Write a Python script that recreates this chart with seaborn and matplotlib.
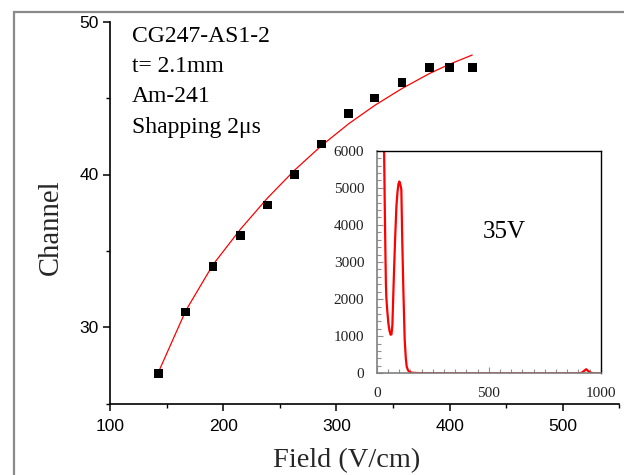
import matplotlib
matplotlib.use('Agg')
import matplotlib.pyplot as plt
import seaborn as sns
import numpy as np
import pandas as pd
from matplotlib.patches import Rectangle
from matplotlib.ticker import MultipleLocator

# ---- data ----
field = [143, 167, 191, 215, 239, 263, 287, 311, 334, 358, 382, 400, 420]
channel = [27, 31, 34, 36, 38, 40, 42, 44, 45, 46, 47, 47, 47]

fit_field = [143, 167, 191, 215, 239, 263, 287, 311, 334, 358, 382, 400, 420]
fit_channel = [27.1, 31.1, 34.1, 36.4, 38.45, 40.28, 41.9, 43.33, 44.53, 45.63, 46.6, 47.22, 47.82]

spec_ch = [30, 33, 36, 39, 41, 43, 47, 52, 57, 62, 66, 70, 76, 82, 88, 93, 97, 101, 104, 107,
           110, 114, 119, 125, 130, 134, 140, 148, 160, 180, 220, 300, 400, 500, 600, 700, 800,
           900, 915, 925, 935, 945, 955, 970, 1000]
spec_cnt = [7500, 6000, 4500, 3200, 2430, 2050, 1700, 1350, 1150, 1040, 1050, 1300, 2500, 3590,
            4500, 4900, 5100, 5170, 5120, 5050, 4950, 3600, 2250, 900, 400, 180, 80, 30, 15, 8,
            4, 2, 0, 0, 0, 0, 0, 0, 15, 60, 110, 60, 15, 0, 0]

info_lines = ["CG247-AS1-2", "t= 2.1mm", "Am-241", "Shapping 2\u03bcs"]
inset_label = "35V"

sns.set_style("ticks")
plt.rcParams['font.family'] = ['Liberation Serif', 'DejaVu Serif']

W, H = 624, 475
fig = plt.figure(figsize=(W / 100, H / 100), dpi=100)

# gray frame
fig.add_artist(Rectangle((14 / W, -0.2), 1.5, (H - 12) / H + 0.2, transform=fig.transFigure,
                         fill=False, edgecolor='#8a8a8a', lw=1.6, clip_on=False))

ax = fig.add_axes([110 / W, (H - 403.7) / H, 509.4 / W, 382 / H])
main_df = pd.DataFrame({'field': field, 'channel': channel})
fit_df = pd.DataFrame({'field': fit_field, 'channel': fit_channel})

sns.lineplot(data=fit_df, x='field', y='channel', ax=ax, color='#ff0000', lw=0.9,
             sort=False, estimator=None, zorder=2)
sns.scatterplot(data=main_df, x='field', y='channel', ax=ax, marker='s', s=40,
                color='black', edgecolor='none', zorder=3)

ax.set_xlim(100, 550)
ax.set_ylim(25, 50)
ax.xaxis.set_major_locator(MultipleLocator(100))
ax.xaxis.set_minor_locator(MultipleLocator(50))
ax.yaxis.set_major_locator(MultipleLocator(10))
ax.yaxis.set_minor_locator(MultipleLocator(5))
for s in ['top', 'right']:
    ax.spines[s].set_visible(False)
for s in ['left', 'bottom']:
    ax.spines[s].set_linewidth(1.2)
    ax.spines[s].set_color('black')
ax.tick_params(which='major', direction='out', length=5, width=1.1, labelsize=12.5,
               labelfontfamily='Liberation Sans', colors='black')
ax.tick_params(axis='x', which='major', pad=6)
ax.tick_params(axis='y', which='major', pad=3)
ax.tick_params(which='minor', direction='out', length=3, width=1.0, color='black')

ax.set_xlabel("Field (V/cm)", fontsize=20.4)
ax.set_ylabel("Channel", fontsize=20.6)
ax.xaxis.set_label_coords(0.464, -0.115)
ax.yaxis.set_label_coords(-0.091, 0.4626)

text_y = [48.65, 46.69, 44.76, 42.74]
for t, yv in zip(info_lines, text_y):
    ax.text(119.0, yv, t, fontsize=17, va='baseline', ha='left', color='black')

# inset
ins = fig.add_axes([376.7 / W, (H - 373.3) / H, 224 / W, 222.6 / H])
ins.set_facecolor('white')
spec_df = pd.DataFrame({'ch': spec_ch, 'cnt': spec_cnt})
sns.lineplot(data=spec_df, x='ch', y='cnt', ax=ins, color='#ff0000', lw=1.6,
             sort=False, estimator=None)
ins.set_xlim(0, 1000)
ins.set_ylim(0, 6000)
ins.set_xlabel('')
ins.set_ylabel('')
ins.xaxis.set_major_locator(MultipleLocator(500))
ins.xaxis.set_minor_locator(MultipleLocator(50))
ins.yaxis.set_major_locator(MultipleLocator(1000))
ins.yaxis.set_minor_locator(MultipleLocator(200))
for s in ['left', 'bottom']:
    ins.spines[s].set_color('#808080')
    ins.spines[s].set_linewidth(1.2)
for s in ['top', 'right']:
    ins.spines[s].set_color('black')
    ins.spines[s].set_linewidth(1.0)
ins.tick_params(which='both', direction='in', color='#909090', width=0.8)
ins.tick_params(which='major', length=4, labelsize=11, labelcolor='#222222')
ins.tick_params(which='minor', length=3)
ins.tick_params(axis='y', which='major', pad=9)
ins.tick_params(axis='x', which='major', pad=10)
ins.text(473, 3655, inset_label, fontsize=18, va='baseline', ha='left', color='black')

fig.savefig('out.png', dpi=100)
